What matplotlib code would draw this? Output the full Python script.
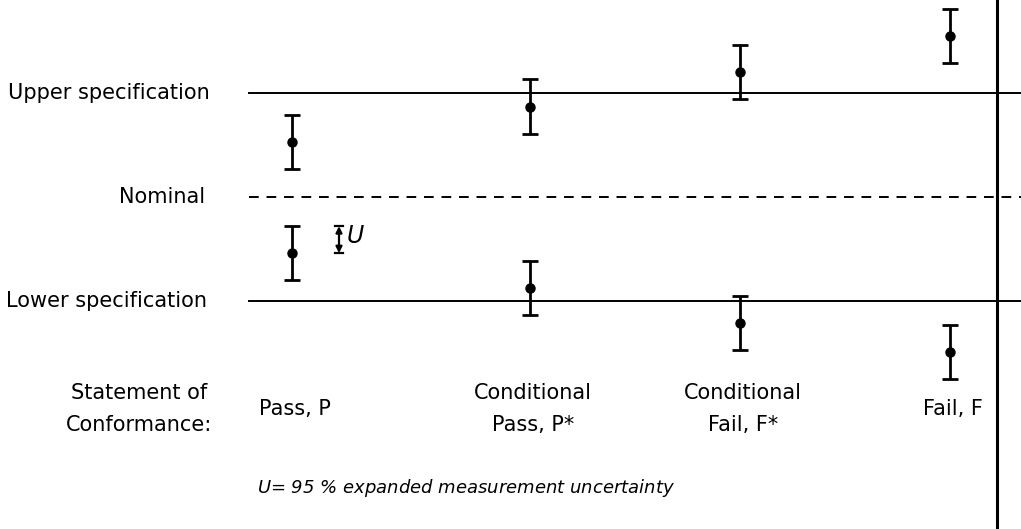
import numpy as np
import matplotlib.pyplot as plt

# measured results (nominal = 0, spec limits = +/-1)
cases = ['Pass, P', 'Conditional\nPass, P*', 'Conditional\nFail, F*', 'Fail, F']
upper_vals = [0.53, 0.87, 1.20, 1.55]
lower_vals = [-0.54, -0.875, -1.21, -1.49]
U = 0.26
upper_spec = 1.0
lower_spec = -1.0
nominal = 0.0

# layout in figure pixels
col_x = [292, 530, 740, 950]
px_per_unit = 104.0
y_nom_px = 197.0

fig = plt.figure(figsize=(10.21, 5.29), dpi=100)
ax = fig.add_axes([0, 0, 1, 1])
ax.set_xlim(0, 1021)
ax.set_ylim((y_nom_px - 529) / px_per_unit, y_nom_px / px_per_unit)
ax.axis('off')

font = 'DejaVu Sans'
fs = 15

# spec lines
ax.plot([249, 1021], [upper_spec, upper_spec], color='black', lw=1.4)
ax.plot([249, 1021], [lower_spec, lower_spec], color='black', lw=1.4)
ax.plot([249, 1021], [nominal, nominal], color='black', lw=1.4, ls=(0, (5, 4)))
ax.axvline(997, color='black', lw=2.2)

# error bars
for vals in (upper_vals, lower_vals):
    ax.errorbar(col_x, vals, yerr=U, fmt='o', color='black', ms=6.5,
                elinewidth=2, capsize=5.5, capthick=2)

# U marker
ux = 339
y0 = lower_vals[0]
ax.annotate('', xy=(ux, y0 + U), xytext=(ux, y0),
            arrowprops=dict(arrowstyle='<|-|>', color='black', lw=1.6,
                            mutation_scale=9, shrinkA=0, shrinkB=0))
ax.plot([ux - 4, ux + 4], [y0 + U, y0 + U], color='black', lw=1.6)
ax.plot([ux - 4, ux + 4], [y0, y0], color='black', lw=1.6)
ax.text(ux + 7, y0 + U * 0.6, '$U$', fontsize=17, va='center', ha='left',
        family='DejaVu Serif')

# left labels
ax.text(210, upper_spec, 'Upper specification', ha='right', va='center',
        fontsize=fs, family=font)
ax.text(205, nominal, 'Nominal', ha='right', va='center', fontsize=fs, family=font)
ax.text(207, lower_spec, 'Lower specification', ha='right', va='center',
        fontsize=fs, family=font)

y_state = (y_nom_px - 409) / px_per_unit
ax.text(212, y_state, 'Statement of\nConformance:', ha='right', va='center',
        fontsize=fs, family=font, multialignment='center', linespacing=1.7)
for x, c in zip(col_x, cases):
    ax.text(x + 3, y_state, c, ha='center', va='center', fontsize=fs,
            family=font, linespacing=1.7)

ax.text(257, (y_nom_px - 488) / px_per_unit,
        '$U$= 95 % expanded measurement uncertainty', ha='left', va='center',
        fontsize=13, style='italic', family=font)

fig.savefig('out.png', dpi=100)
